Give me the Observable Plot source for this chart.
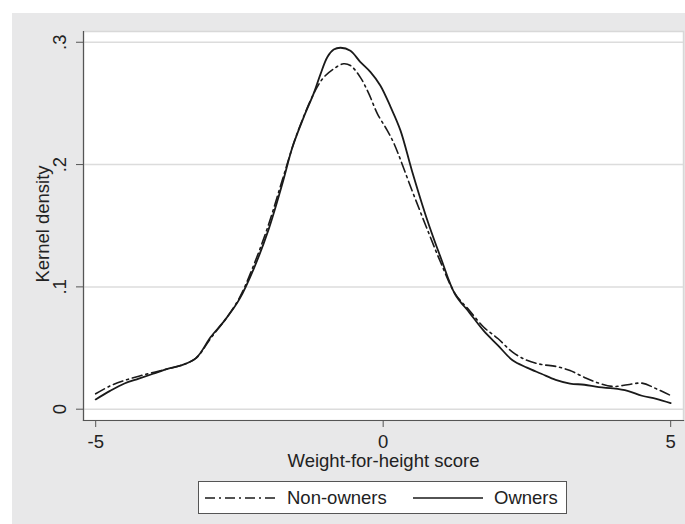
<!DOCTYPE html>
<html>
<head>
<meta charset="utf-8">
<script src="https://cdn.jsdelivr.net/npm/d3@7"></script>
<script src="https://cdn.jsdelivr.net/npm/@observablehq/plot@0.6"></script>
<style>
  html, body { margin: 0; padding: 0; background: #ffffff; }
  #fig { position: absolute; left: 12px; top: 13px; width: 673px; height: 511px; background: #e8e8e9;
         font-family: "Liberation Sans", Arial, Helvetica, sans-serif; color: #222; }
  #fig > svg { position: absolute; left: 0; top: 0; }
  #legend { position: absolute; left: 186px; top: 468px; width: 367px; height: 31px; background: #fff;
            border: 1px solid #555; font-size: 18.5px; }
  #legend .item { position: absolute; top: 0; height: 31px; display: flex; align-items: center; white-space: nowrap; }
  #legend .item svg { display: block; }
</style>
</head>
<body>
<div id="fig"></div>
<script>
// Data
const ownersX = [-5,-4.75,-4.5,-4.25,-4,-3.75,-3.5,-3.25,-3,-2.75,-2.5,-2.25,-2,-1.75,-1.58,-1.38,-1.21,-1.09,-0.97,-0.86,-0.74,-0.57,-0.4,-0.22,-0.05,0.13,0.3,0.5,0.75,1,1.25,1.5,1.75,2,2.25,2.5,2.75,3,3.25,3.5,3.75,4,4.25,4.5,4.75,5];
const ownersY = [0.008,0.015,0.021,0.025,0.029,0.033,0.036,0.042,0.059,0.073,0.090,0.115,0.146,0.185,0.214,0.239,0.258,0.274,0.288,0.294,0.2955,0.293,0.284,0.2756,0.2647,0.247,0.228,0.195,0.157,0.124,0.094,0.079,0.064,0.052,0.040,0.034,0.029,0.024,0.021,0.020,0.018,0.017,0.015,0.011,0.0085,0.005];
const nonOwnersX = [-5,-4.75,-4.5,-4.25,-4,-3.75,-3.5,-3.25,-3,-2.75,-2.5,-2.25,-2,-1.75,-1.5,-1.18,-1.03,-0.86,-0.69,-0.57,-0.4,-0.25,-0.1,0.07,0.19,0.5,0.75,1,1.25,1.5,1.75,2,2.25,2.5,2.75,3,3.25,3.5,3.75,4,4.25,4.5,4.75,5];
const nonOwnersY = [0.0126,0.019,0.0235,0.027,0.030,0.033,0.036,0.042,0.058,0.073,0.091,0.118,0.150,0.188,0.225,0.2606,0.2715,0.2783,0.2824,0.281,0.2715,0.258,0.2415,0.228,0.217,0.179,0.149,0.120,0.0945,0.0807,0.067,0.0576,0.0466,0.040,0.0366,0.035,0.0316,0.026,0.0213,0.0186,0.020,0.0213,0.0167,0.0112];
const xTicks = [-5, 0, 5];
const yTicks = [0, 0.1, 0.2, 0.3];
const yTickLabels = ["0", ".1", ".2", ".3"];
const seriesNames = ["Non-owners", "Owners"];
const xTitle = "Weight-for-height score";
const yTitle = "Kernel density";

const owners = ownersX.map((x, i) => ({x, y: ownersY[i]}));
const nonOwners = nonOwnersX.map((x, i) => ({x, y: nonOwnersY[i]}));
const dashdot = "10,4,2,4";
const FS = 18.5;

const chart = Plot.plot({
  width: 673,
  height: 460,
  marginLeft: 71,
  marginRight: 2,
  marginTop: 18,
  marginBottom: 53,
  style: {background: "transparent", fontFamily: "Liberation Sans, Arial, Helvetica, sans-serif", fontSize: FS + "px", color: "#222"},
  x: {domain: [-5.212, 5.223], label: null},
  y: {domain: [-0.00924, 0.3088], label: null},
  marks: [
    Plot.frame({fill: "white", stroke: "#d8d8d8", strokeWidth: 1.5}),
    Plot.gridY(yTicks, {stroke: "#dcdcdc", strokeOpacity: 1, strokeWidth: 1.5}),
    Plot.line(nonOwners, {x: "x", y: "y", stroke: "#1a1a1a", strokeWidth: 1.6, strokeDasharray: dashdot, curve: "catmull-rom"}),
    Plot.line(owners, {x: "x", y: "y", stroke: "#1a1a1a", strokeWidth: 1.8, curve: "catmull-rom"}),
    Plot.frame({anchor: "left", stroke: "#555", strokeWidth: 1.2}),
    Plot.frame({anchor: "bottom", stroke: "#555", strokeWidth: 1.2}),
    Plot.axisY(yTicks, {tickSize: 7, tickPadding: 11, tickRotate: -90, stroke: "#555", label: null,
      tickFormat: (d) => yTickLabels[yTicks.indexOf(d)], fontSize: FS, fill: "#222"}),
    Plot.axisX(xTicks, {tickSize: 7, tickPadding: 7, stroke: "#555", label: null,
      tickFormat: (d) => String(d), fontSize: FS, fill: "#222"}),
    Plot.text([yTitle], {frameAnchor: "left", dx: -40, dy: -2, rotate: -90, textAnchor: "middle", lineAnchor: "middle", fontSize: FS, fill: "#222"}),
    Plot.text([xTitle], {frameAnchor: "bottom", dy: 41, textAnchor: "middle", lineAnchor: "middle", fontSize: FS, fill: "#222"})
  ]
});
const fig = document.getElementById("fig");
fig.appendChild(chart);

// Legend (below the chart)
const legend = document.createElement("div");
legend.id = "legend";
function item(left, gap, name, dash) {
  const d = document.createElement("div");
  d.className = "item";
  d.style.left = left + "px";
  const s = d3.create("svg").attr("width", 70).attr("height", 4);
  s.append("line").attr("x1", 0).attr("x2", 70).attr("y1", 2).attr("y2", 2)
    .attr("stroke", "#1a1a1a").attr("stroke-width", 1.6)
    .attr("stroke-dasharray", dash || null);
  d.appendChild(s.node());
  const t = document.createElement("span");
  t.textContent = name;
  t.style.marginLeft = gap + "px";
  d.appendChild(t);
  legend.appendChild(d);
}
item(6, 12, seriesNames[0], dashdot);
item(214, 11, seriesNames[1], null);
fig.appendChild(legend);
</script>
</body>
</html>
